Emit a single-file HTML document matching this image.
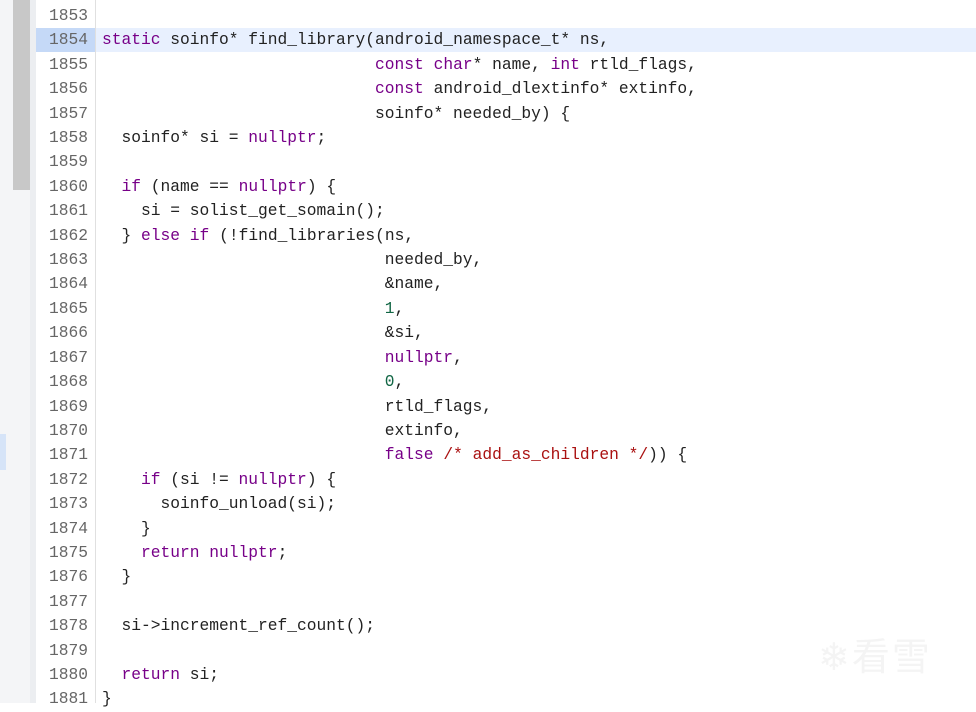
<!DOCTYPE html>
<html><head><meta charset="utf-8"><style>
body{margin:0;width:976px;height:703px;overflow:hidden;background:#fff;position:relative;font-family:"Liberation Mono",monospace;}
.l{position:absolute;left:0;width:30px;top:0;height:703px;background:#f4f5f7}
.sb{position:absolute;left:13px;width:17px;top:0;height:190px;background:#c8c8c8}
.g{position:absolute;left:30px;width:6px;top:0;height:703px;background:#eceef1}
.num{position:absolute;left:36px;width:59px;top:0;height:703px;background:#fff;border-right:1px solid #e0e0e0}
.hl{position:absolute;left:96px;right:0;top:28px;height:24px;background:#e8f0fe}
.hn{position:absolute;left:36px;width:59px;top:28px;height:24px;background:#c5d9f7}
.mk{position:absolute;left:0;width:6px;top:434px;height:36px;background:#d6e4f8}
pre{margin:0;position:absolute;top:4px;font-family:"Liberation Mono",monospace;font-size:16.25px;line-height:24.4px;color:#222}
.n{left:36px;width:52px;text-align:right;color:#666}
.c{left:102px}
.k{color:#770088}.d{color:#116644}.m{color:#aa1111}
.wm{position:absolute;left:818px;top:626px;color:#f4f4f4;font-family:"Noto Sans CJK SC",sans-serif;font-size:38px;letter-spacing:2px}
</style></head><body>
<div class="l"></div><div class="sb"></div><div class="g"></div><div class="num"></div>
<div class="hl"></div><div class="hn"></div><div class="mk"></div>
<pre class="n">1853
1854
1855
1856
1857
1858
1859
1860
1861
1862
1863
1864
1865
1866
1867
1868
1869
1870
1871
1872
1873
1874
1875
1876
1877
1878
1879
1880
1881</pre>
<pre class="c">

<span class="k">static</span> soinfo* find_library(android_namespace_t* ns,
                            <span class="k">const</span> <span class="k">char</span>* name, <span class="k">int</span> rtld_flags,
                            <span class="k">const</span> android_dlextinfo* extinfo,
                            soinfo* needed_by) {
  soinfo* si = <span class="k">nullptr</span>;

  <span class="k">if</span> (name == <span class="k">nullptr</span>) {
    si = solist_get_somain();
  } <span class="k">else</span> <span class="k">if</span> (!find_libraries(ns,
                             needed_by,
                             &amp;name,
                             <span class="d">1</span>,
                             &amp;si,
                             <span class="k">nullptr</span>,
                             <span class="d">0</span>,
                             rtld_flags,
                             extinfo,
                             <span class="k">false</span> <span class="m">/* add_as_children */</span>)) {
    <span class="k">if</span> (si != <span class="k">nullptr</span>) {
      soinfo_unload(si);
    }
    <span class="k">return</span> <span class="k">nullptr</span>;
  }

  si-&gt;increment_ref_count();

  <span class="k">return</span> si;
}</pre>
<div class="wm">❄看雪</div>
</body></html>
